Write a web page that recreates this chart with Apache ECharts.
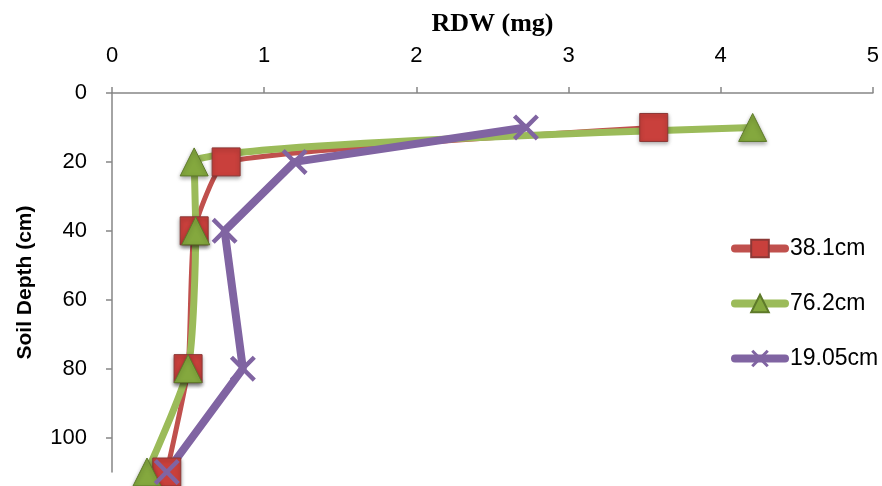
<!DOCTYPE html>
<html>
<head>
<meta charset="utf-8">
<script src="https://cdn.jsdelivr.net/npm/echarts@6/dist/echarts.min.js"></script>
<style>html,body{margin:0;padding:0;background:#fff}#c{width:882px;height:486px}</style>
</head>
<body>
<div id="c"></div>
<script>
const depths = [10, 20, 40, 80, 110];
const rdw381 = [3.56, 0.75, 0.54, 0.50, 0.36];
const rdw762 = [4.21, 0.54, 0.55, 0.50, 0.23];
const rdw1905 = [2.72, 1.20, 0.74, 0.86, 0.36];
const seriesNames = ['38.1cm', '76.2cm', '19.05cm'];
const xTicks = [0, 1, 2, 3, 4, 5];
const yTicks = [0, 20, 40, 60, 80, 100];

const pairs = arr => arr.map((v, i) => [v, depths[i]]);
const xPath = 'path://M0,1.2L1.2,0L5,3.8L8.8,0L10,1.2L6.2,5L10,8.8L8.8,10L5,6.2L1.2,10L0,8.8L3.8,5Z';
const font = 'Liberation Sans';

const chart = echarts.init(document.getElementById('c'));
chart.setOption({
  animation: false,
  grid: { left: 112, top: 93, right: 9, bottom: 14 },
  xAxis: {
    type: 'value', position: 'top', min: xTicks[0], max: xTicks[xTicks.length - 1], interval: 1,
    name: 'RDW (mg)', nameLocation: 'middle', nameGap: 69,
    nameTextStyle: { fontFamily: 'Liberation Serif', fontWeight: 'bold', fontSize: 26, color: '#000', verticalAlign: 'middle' },
    axisLine: { lineStyle: { color: '#868686', width: 1.5 } },
    axisTick: { lineStyle: { color: '#868686', width: 1.5 }, length: 6 },
    axisLabel: { color: '#000', fontSize: 22, fontFamily: font, margin: 26 },
    splitLine: { show: false }
  },
  yAxis: {
    type: 'value', inverse: true, min: yTicks[0], max: 110, interval: 20,
    name: 'Soil Depth (cm)', nameLocation: 'middle', nameGap: 87, nameRotate: 90,
    nameTextStyle: { fontFamily: font, fontWeight: 'bold', fontSize: 21, color: '#000', verticalAlign: 'middle' },
    axisLine: { show: true, lineStyle: { color: '#868686', width: 1.5 } },
    axisTick: { show: true, lineStyle: { color: '#868686', width: 1.5 }, length: 6 },
    axisLabel: { color: '#000', fontSize: 22, fontFamily: font, margin: 25, showMaxLabel: false },
    splitLine: { show: false }
  },
  legend: {
    orient: 'vertical', left: 726, top: 232, itemGap: 32, itemWidth: 50, itemHeight: 22,
    lineStyle: { width: 8, cap: 'round' },
    textStyle: { fontSize: 23, fontFamily: font, color: '#000' },
    data: seriesNames
  },
  series: [
    {
      name: seriesNames[0], type: 'line', data: pairs(rdw381), smooth: 0.15,
      symbol: 'rect', symbolSize: 28,
      lineStyle: { color: '#C0504D', width: 5 },
      itemStyle: { color: '#C9403C', borderColor: '#8C3836', borderWidth: 1, shadowBlur: 4, shadowColor: 'rgba(0,0,0,0.35)', shadowOffsetY: 2 }
    },
    {
      name: seriesNames[1], type: 'line', data: pairs(rdw762), smooth: 0.2,
      symbol: 'triangle', symbolSize: [28, 28],
      lineStyle: { color: '#9BBB59', width: 7 },
      itemStyle: { color: '#84A83E', borderColor: '#5E7A2A', borderWidth: 1, shadowBlur: 4, shadowColor: 'rgba(0,0,0,0.35)', shadowOffsetY: 2 }
    },
    {
      name: seriesNames[2], type: 'line', data: pairs(rdw1905), smooth: false,
      symbol: xPath, symbolSize: 26,
      lineStyle: { color: '#8064A2', width: 8 },
      itemStyle: { color: '#8064A2', borderWidth: 0 }
    }
  ]
});
</script>
</body>
</html>
